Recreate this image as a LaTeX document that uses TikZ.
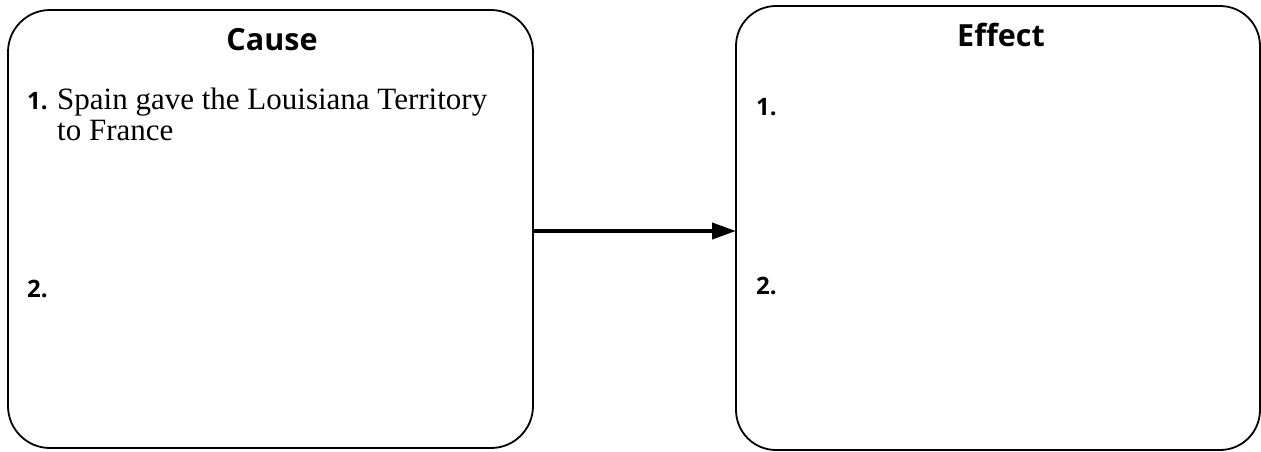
\documentclass[tikz,border=0pt]{standalone}
\usepackage{fontspec}
\setmainfont{Liberation Serif}
\newfontfamily\headfont{Open Sans}
\usetikzlibrary{arrows.meta}
\tikzset{
  box/.style={draw=black, line width=1.8pt, rounded corners=42pt, inner sep=0pt, outer sep=0pt},
  head/.style={font=\headfont\bfseries\fontsize{30.5}{35}\selectfont, anchor=base, inner sep=0pt},
  num/.style={font=\headfont\bfseries\fontsize{24}{28}\selectfont, anchor=base west, inner sep=0pt},
  body/.style={font=\fontsize{31}{34}\selectfont, anchor=base west, inner sep=0pt},
  arr/.style={line width=4pt, -{Triangle[length=24pt, width=16pt]}}
}
\begin{document}
\begin{tikzpicture}[x=1pt, y=-1pt]
\useasboundingbox (0,0) rectangle (1261,451);
\node[box, minimum width=525pt, minimum height=438pt] (cause) at (270.5,229) {};
\node[box, minimum width=524pt, minimum height=444pt, rounded corners=40pt] (effect) at (998,228) {};
\draw[arr] ([yshift=-2pt]cause.east) -- ([yshift=-2pt]cause.east -| effect.west);
\node[head] (causeh) at (272,50) {Cause};
\node[head] (effecth) at (1001,46) {Effect};
\node[num] (c1) at (27,109) {1.};
\node[body] (c1a) at (57,109) {Spain gave the Louisiana Territory};
\node[body] (c1b) at (57,140) {to France};
\node[num] (c2) at (27,297) {2.};
\node[num] (e1) at (756,115) {1.};
\node[num] (e2) at (756,294) {2.};
\end{tikzpicture}
\end{document}
